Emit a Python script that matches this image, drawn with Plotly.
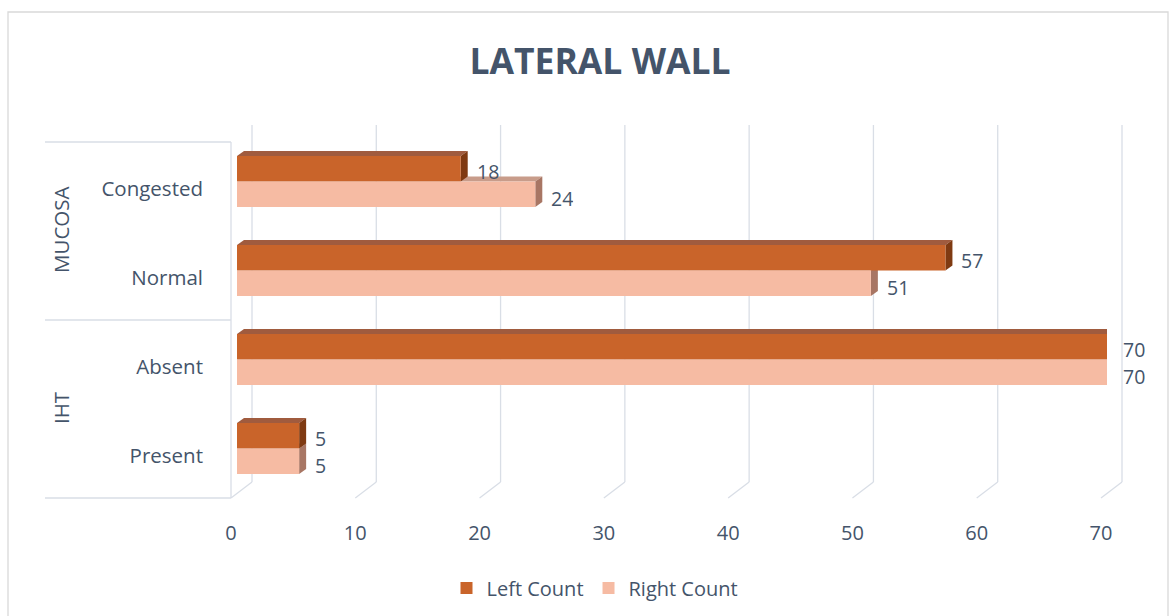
import plotly.graph_objects as go

# ---- data ----
groups = ["MUCOSA", "MUCOSA", "IHT", "IHT"]
categories = ["Congested", "Normal", "Absent", "Present"]
left_count = [18, 57, 70, 5]
right_count = [24, 51, 70, 5]
x_ticks = [0, 10, 20, 30, 40, 50, 60, 70]

# ---- layout geometry (pixels) ----
W, H = 1176, 616
PL, PR, PT, PB = 237, 1107, 137, 493          # plot area edges
X_MAX = 70
BARGAP = 0.427
px_per_unit = (PR - PL) / X_MAX
cat_px = (PB - PT) / len(categories)
group_w = 1 - BARGAP                          # data units occupied by a bar pair
bar_px = group_w / 2 * cat_px                 # thickness of one bar in pixels
DEPTH_X, DEPTH_Y = 7, 5                       # pseudo-3D extrusion
depth_x_data = DEPTH_X / px_per_unit

TEXT = "#44546A"
GRID = "#D9DEE6"
FONT = "Open Sans"

LEFT_FRONT, LEFT_TOP, LEFT_SIDE = "#C9642A", "#A05B3E", "#7F3A12"
RIGHT_FRONT, RIGHT_TOP, RIGHT_SIDE = "#F6BBA3", "#C89C8A", "#A87664"


def px_x(p):
    return (p - PL) / (PR - PL)


def px_y(p):
    return (PB - p) / (PB - PT)


def val_to_paper(v, shift_px=0):
    return (v * px_per_unit + shift_px) / (PR - PL)


fig = go.Figure()
fig.add_trace(go.Bar(
    name="Left Count", y=categories, x=left_count, orientation="h",
    marker=dict(color=LEFT_FRONT, line=dict(width=0)),
))
fig.add_trace(go.Bar(
    name="Right Count", y=categories, x=right_count, orientation="h",
    marker=dict(color=RIGHT_FRONT, line=dict(width=0)),
))

shapes = []

# back-wall gridlines and floor lines
for t in x_ticks:
    shapes.append(dict(type="line", xref="paper", yref="paper",
                       x0=val_to_paper(t, 15), x1=val_to_paper(t, 15),
                       y0=px_y(482), y1=px_y(125),
                       line=dict(color=GRID, width=1.3), layer="below"))
    shapes.append(dict(type="line", xref="paper", yref="paper",
                       x0=val_to_paper(t, -6), x1=val_to_paper(t, 15),
                       y0=px_y(498), y1=px_y(482),
                       line=dict(color=GRID, width=1.3), layer="below"))

# category table lines
for yy in (142, 320, 498):
    shapes.append(dict(type="line", xref="paper", yref="paper",
                       x0=px_x(45), x1=px_x(231), y0=px_y(yy), y1=px_y(yy),
                       line=dict(color=GRID, width=1.3)))
shapes.append(dict(type="line", xref="paper", yref="paper",
                   x0=px_x(231), x1=px_x(231), y0=px_y(142), y1=px_y(498),
                   line=dict(color=GRID, width=1.3)))

# chart border
shapes.append(dict(type="rect", xref="paper", yref="paper",
                   x0=px_x(8), x1=px_x(1168), y0=px_y(622), y1=px_y(12),
                   line=dict(color="#D9D9D9", width=1.3), layer="below"))


def faces(values, offset, top_col, side_col):
    out = []
    for i, v in enumerate(values):
        top_edge = i - group_w / 2 + offset
        d = depth_x_data
        out.append(dict(
            type="path", xref="x", yref="y", ysizemode="pixel", yanchor=top_edge,
            path=f"M 0,0 L {v},0 L {v + d},{DEPTH_Y} L {d},{DEPTH_Y} Z",
            fillcolor=top_col, line=dict(width=0), layer="between"))
        out.append(dict(
            type="path", xref="x", yref="y", ysizemode="pixel", yanchor=top_edge,
            path=(f"M {v},0 L {v + d},{DEPTH_Y} L {v + d},{DEPTH_Y - bar_px} "
                  f"L {v},{-bar_px} Z"),
            fillcolor=side_col, line=dict(width=0), layer="between"))
    return out


# right series first so the left bars sit in front of it
shapes += faces(right_count, group_w / 2, RIGHT_TOP, RIGHT_SIDE)
shapes += faces(left_count, 0, LEFT_TOP, LEFT_SIDE)

annotations = []
for i, (lv, rv) in enumerate(zip(left_count, right_count)):
    annotations.append(dict(x=lv, y=i, xref="x", yref="y", text=str(lv),
                            showarrow=False, xanchor="left", xshift=14,
                            yshift=bar_px / 2 - 2.5, height=22,
                            font=dict(family=FONT, size=19.5, color=TEXT)))
    annotations.append(dict(x=rv, y=i, xref="x", yref="y", text=str(rv),
                            showarrow=False, xanchor="left", xshift=14,
                            yshift=-bar_px / 2 - 3.5, height=22,
                            font=dict(family=FONT, size=19.5, color=TEXT)))

# outer group labels
group_spans = {}
for i, g in enumerate(groups):
    group_spans.setdefault(g, []).append(i)
for g, idx in group_spans.items():
    mid = (min(idx) + max(idx)) / 2
    annotations.append(dict(x=px_x(61), y=mid, xref="paper", yref="y", text=g,
                            textangle=-90, showarrow=False, xanchor="center",
                            yshift=-4,
                            font=dict(family=FONT, size=20.5, color=TEXT)))

fig.update_layout(
    width=W, height=H,
    margin=dict(l=PL, r=W - PR, t=PT, b=H - PB, autoexpand=False),
    paper_bgcolor="white", plot_bgcolor="rgba(0,0,0,0)",
    barmode="group", bargap=BARGAP, bargroupgap=0,
    title=dict(text="<b>LATERAL WALL</b>", xref="container", x=600 / W,
               xanchor="center", yref="container", y=1 - 62 / H,
               yanchor="middle",
               font=dict(family=FONT, size=35.5, color=TEXT)),
    font=dict(family=FONT, size=20, color=TEXT),
    xaxis=dict(range=[0, X_MAX], tickvals=x_ticks, showgrid=False,
               zeroline=False, showline=False, ticks="", automargin=False,
               ticklabelshift=-6, ticklabelstandoff=26,
               tickfont=dict(family=FONT, size=20, color=TEXT)),
    yaxis=dict(range=[len(categories) - 0.5, -0.5], autorange=False,
               showgrid=False, zeroline=False,
               showline=False, ticks="", automargin=False,
               ticklabelstandoff=33, ticklabelshift=-7,
               tickfont=dict(family=FONT, size=20.5, color=TEXT)),
    legend=dict(orientation="h", x=px_x(595), xanchor="center",
                y=px_y(588), yanchor="middle",
                font=dict(family=FONT, size=20, color=TEXT)),
    shapes=shapes, annotations=annotations,
)

fig.write_html("out.html")
